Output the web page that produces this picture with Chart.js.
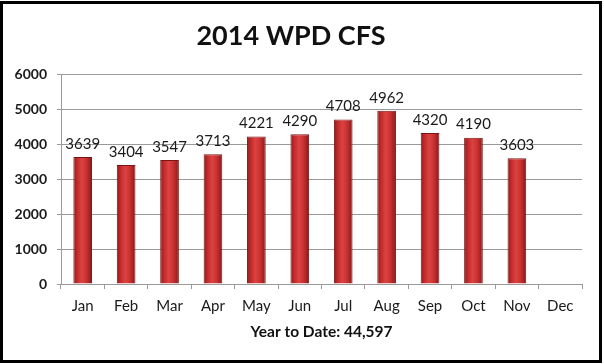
<!DOCTYPE html>
<html>
<head>
<meta charset="utf-8">
<script src="https://cdn.jsdelivr.net/npm/chart.js@4"></script>
<style>
  body { margin: 0; background: #fff; }
  #wrap { position: relative; width: 604px; height: 364px; }
  #frame {
    position: absolute; left: 0; top: 1px; width: 602px; height: 362px;
    border: 3px solid #000; box-sizing: border-box; pointer-events: none;
  }
  canvas { position: absolute; left: 0; top: 0; }
</style>
</head>
<body>
<div id="wrap">
  <canvas id="cfsChart" width="604" height="364"></canvas>
  <div id="frame"></div>
</div>
<script>
// chart data
var months = ["Jan", "Feb", "Mar", "Apr", "May", "Jun", "Jul", "Aug", "Sep", "Oct", "Nov", "Dec"];
var counts = [3639, 3404, 3547, 3713, 4221, 4290, 4708, 4962, 4320, 4190, 3603, null];
var yMax = 6000;
var yStep = 1000;

var total = counts.reduce(function (a, b) { return a + (b || 0); }, 0);

// red bar with lighter middle, darker edges
function barFill(c) {
  if (c.type !== "data") return "#c62f2f";
  var chart = c.chart;
  var x = chart.scales.x ? chart.scales.x.getPixelForValue(c.dataIndex) : NaN;
  if (!isFinite(x)) return "#c62f2f";
  var half = 9.5;
  var g = chart.ctx.createLinearGradient(x - half, 0, x + half, 0);
  g.addColorStop(0, "#8a1717");
  g.addColorStop(0.2, "#c02a2a");
  g.addColorStop(0.45, "#dc4242");
  g.addColorStop(0.7, "#c93131");
  g.addColorStop(1, "#861616");
  return g;
}

// numbers above the bars
var valueLabels = {
  id: "valueLabels",
  afterDatasetsDraw: function (chart) {
    var ctx = chart.ctx;
    var meta = chart.getDatasetMeta(0);
    ctx.save();
    ctx.font = "15px Lato";
    ctx.fillStyle = "#1a1a1a";
    ctx.textAlign = "center";
    ctx.textBaseline = "middle";
    meta.data.forEach(function (bar, i) {
      if (counts[i] == null) return;
      ctx.fillText(String(counts[i]), bar.x, bar.y - 13);
    });
    ctx.restore();
  },
};

var ctx = document.getElementById("cfsChart").getContext("2d");
var cfsChart = new Chart(ctx, {
  type: "bar",
  data: {
    labels: months,
    datasets: [
      {
        label: "CFS",
        data: counts,
        backgroundColor: barFill,
        borderColor: "#7a1414",
        borderWidth: 1,
        barPercentage: 0.43,
        categoryPercentage: 1,
      },
    ],
  },
  plugins: [valueLabels],
  options: {
    responsive: false,
    animation: false,
    layout: { padding: { left: 0, right: 22, top: 0, bottom: 0 } },
    plugins: {
      legend: { display: false },
      tooltip: { enabled: false },
      title: {
        display: true,
        text: "2014 WPD CFS",
        color: "#111",
        font: { family: "Lato", size: 27, weight: "bold" },
        padding: { top: 20, bottom: 22 },
      },
    },
    scales: {
      x: {
        afterFit: function (scale) { scale.height = 80; },
        grid: {
          display: true,
          drawOnChartArea: false,
          offset: true,
          tickLength: 5,
          color: "#9a9a9a",
        },
        border: { color: "#9a9a9a" },
        ticks: {
          padding: 8,
          color: "#1a1a1a",
          font: { family: "Lato", size: 15 },
        },
        title: {
          display: true,
          text: "Year to Date: " + total.toLocaleString("en-US"),
          color: "#111",
          font: { family: "Lato", size: 15.5, weight: "bold" },
          padding: { top: 0, bottom: 23 },
        },
      },
      y: {
        min: 0,
        max: yMax,
        afterFit: function (scale) { scale.width = 61; },
        grid: { color: "#9a9a9a", tickLength: 4 },
        border: { color: "#9a9a9a" },
        ticks: {
          stepSize: yStep,
          padding: 10,
          color: "#1a1a1a",
          font: { family: "Lato", size: 14, weight: "bold" },
          callback: function (v) { return String(v); },
        },
      },
    },
  },
});
</script>
</body>
</html>
